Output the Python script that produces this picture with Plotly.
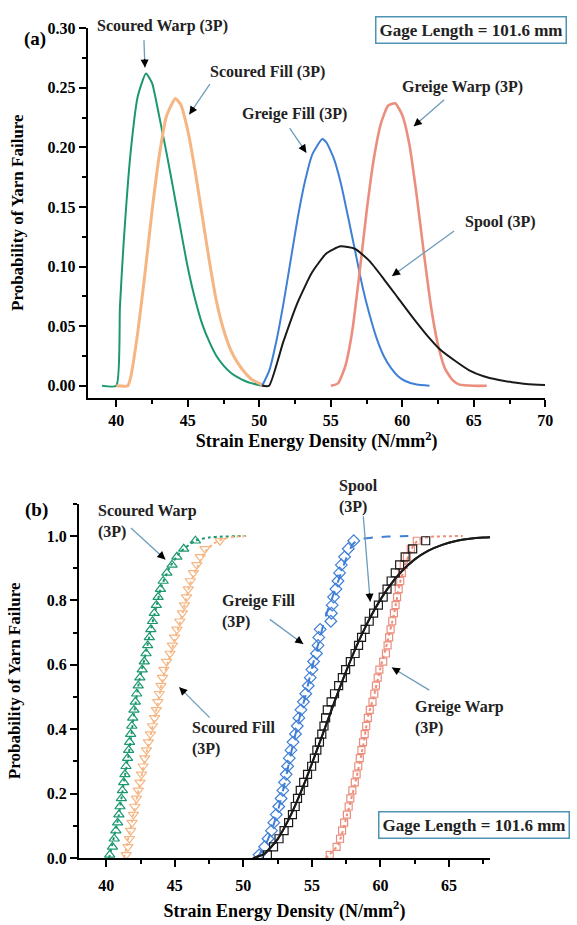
import plotly.graph_objects as go

# ---------------- Panel (a): probability density curves ----------------
sw_pdf_x = [39.0, 40.0, 40.25, 40.5, 41.0, 41.5, 42.07, 42.5, 43.0, 43.5, 44.0, 44.5, 45.0, 45.5,
            46.0, 46.5, 47.0, 47.5, 48.0, 48.5, 49.0, 49.5, 50.2]
sw_pdf_y = [0.0, 0.0, 0.066, 0.118, 0.196, 0.243, 0.262, 0.254, 0.226, 0.196, 0.164, 0.131, 0.099, 0.073,
            0.052, 0.037, 0.025, 0.017, 0.011, 0.007, 0.004, 0.002, 0.0]

sf_pdf_x = [40.0, 40.8, 41.0, 41.5, 42.0, 42.5, 43.0, 43.5, 44.13, 44.5, 45.0, 45.5, 46.0, 46.5,
            47.0, 47.5, 48.0, 48.5, 49.0, 49.5, 50.0, 50.3]
sf_pdf_y = [0.0, 0.0, 0.007, 0.045, 0.094, 0.147, 0.193, 0.226, 0.241, 0.236, 0.214, 0.181, 0.143, 0.105,
            0.071, 0.047, 0.030, 0.019, 0.011, 0.005, 0.002, 0.0]

gf_pdf_x = [50.2, 50.7, 51.2, 51.7, 52.2, 52.7, 53.2, 53.7, 54.4, 54.7, 55.2, 55.7, 56.2, 56.7,
            57.2, 57.7, 58.2, 58.7, 59.2, 59.7, 60.2, 61.0, 61.9]
gf_pdf_y = [0.0, 0.013, 0.038, 0.070, 0.106, 0.142, 0.172, 0.194, 0.207, 0.204, 0.191, 0.170, 0.142, 0.113,
            0.084, 0.060, 0.040, 0.025, 0.015, 0.008, 0.004, 0.001, 0.0]

gw_pdf_x = [55.0, 55.5, 56.0, 56.5, 57.0, 57.5, 58.0, 58.5, 59.0, 59.5, 60.0, 60.5, 61.0, 61.5,
            62.0, 62.5, 63.0, 63.5, 64.0, 65.0, 65.9]
gw_pdf_y = [0.0, 0.002, 0.016, 0.046, 0.094, 0.146, 0.190, 0.220, 0.235, 0.237, 0.227, 0.202, 0.160, 0.112,
            0.067, 0.034, 0.014, 0.005, 0.001, 0.0, 0.0]

sp_pdf_x = [50.2, 50.68, 51.68, 52.68, 53.68, 54.68, 55.68, 56.68, 57.68, 58.68, 59.68, 60.68, 61.68,
            62.68, 63.68, 64.68, 65.68, 66.68, 67.68, 68.68, 69.98]
sp_pdf_y = [0.0, 0.0, 0.037, 0.070, 0.095, 0.111, 0.117, 0.115, 0.105, 0.090, 0.074, 0.058, 0.043,
            0.030, 0.021, 0.013, 0.008, 0.005, 0.003, 0.0015, 0.0007]

# ---------------- Panel (b): cumulative probability of failure ----------------
rank_prob = [0.010, 0.035, 0.060, 0.085, 0.110, 0.135, 0.160, 0.185, 0.210, 0.235,
             0.260, 0.285, 0.310, 0.335, 0.360, 0.385, 0.410, 0.435, 0.460, 0.485,
             0.510, 0.535, 0.560, 0.585, 0.610, 0.635, 0.660, 0.685, 0.710, 0.735,
             0.760, 0.785, 0.810, 0.835, 0.860, 0.885, 0.910, 0.935, 0.960, 0.985]

sw_data_x = [40.25, 40.45, 40.58, 40.70, 40.83, 40.92, 41.00, 41.10, 41.18, 41.27,
             41.36, 41.44, 41.55, 41.63, 41.70, 41.78, 41.86, 41.93, 42.02, 42.12,
             42.22, 42.33, 42.45, 42.62, 42.77, 42.90, 43.02, 43.14, 43.25, 43.37,
             43.50, 43.65, 43.78, 43.95, 44.15, 44.42, 44.80, 45.15, 45.65, 46.50]
sf_data_x = [41.45, 41.58, 41.68, 41.78, 41.88, 41.98, 42.08, 42.20, 42.33, 42.46,
             42.57, 42.68, 42.80, 42.93, 43.07, 43.22, 43.37, 43.52, 43.65, 43.76,
             43.87, 43.99, 44.10, 44.20, 44.40, 44.65, 44.82, 44.98, 45.15, 45.36,
             45.55, 45.70, 45.85, 45.98, 46.13, 46.35, 46.60, 46.85, 47.20, 48.30]
gf_data_x = [51.15, 51.55, 51.80, 52.05, 52.22, 52.40, 52.58, 52.75, 52.88, 53.00,
             53.12, 53.23, 53.35, 53.47, 53.62, 53.80, 53.93, 54.05, 54.20, 54.38,
             54.55, 54.73, 54.88, 55.00, 55.12, 55.33, 55.45, 55.50, 55.60, 56.38,
             56.42, 56.48, 56.58, 56.75, 56.90, 57.02, 57.15, 57.38, 57.65, 58.05]
sp_data_x = [51.75, 52.20, 52.60, 52.97, 53.30, 53.58, 53.78, 53.95, 54.15, 54.40,
             54.68, 54.98, 55.18, 55.36, 55.55, 55.72, 55.88, 56.00, 56.12, 56.40,
             56.65, 56.95, 57.22, 57.46, 57.80, 58.15, 58.40, 58.62, 58.88, 59.18,
             59.50, 59.85, 60.20, 60.48, 60.78, 61.08, 61.40, 61.80, 62.35, 63.30]
gw_data_x = [56.30, 56.80, 57.05, 57.20, 57.35, 57.55, 57.68, 57.80, 57.95, 58.13,
             58.26, 58.38, 58.49, 58.61, 58.73, 58.85, 58.96, 59.08, 59.22, 59.42,
             59.55, 59.67, 59.80, 59.92, 60.20, 60.40, 60.52, 60.63, 60.74, 60.86,
             60.98, 61.10, 61.21, 61.33, 61.44, 61.56, 61.70, 61.93, 62.22, 62.65]

sw_fit_x = [40.2, 40.9, 41.3, 41.7, 42.0, 42.4, 42.8, 43.2, 43.6, 44.0, 44.6, 45.4, 46.5, 47.5, 48.5, 49.5, 50.2]
sw_fit_y = [0.0, 0.13, 0.24, 0.34, 0.44, 0.55, 0.62, 0.70, 0.77, 0.84, 0.90, 0.95, 0.985, 0.995, 0.998, 0.999, 1.0]
sf_fit_x = [41.3, 42.0, 42.5, 43.0, 43.6, 44.1, 44.8, 45.5, 46.1, 46.6, 47.2, 47.8, 48.5, 49.3, 50.2]
sf_fit_y = [0.0, 0.14, 0.24, 0.34, 0.45, 0.55, 0.65, 0.75, 0.85, 0.90, 0.95, 0.975, 0.99, 0.997, 1.0]
gf_fit_x = [51.0, 51.6, 52.1, 52.6, 53.0, 53.5, 54.0, 54.5, 55.0, 55.5, 56.0, 56.5, 57.0, 57.5, 58.0, 58.5,
            59.5, 60.5, 61.5, 62.2]
gf_fit_y = [0.0, 0.04, 0.09, 0.16, 0.23, 0.33, 0.42, 0.50, 0.59, 0.67, 0.75, 0.81, 0.87, 0.93, 0.975, 0.99,
            0.995, 0.998, 0.999, 1.0]
sp_fit_x = [50.7, 51.5, 52.5, 53.5, 54.5, 55.5, 56.5, 57.5, 58.5, 59.5, 60.5, 61.5, 62.5, 63.5, 64.5,
            65.5, 66.5, 67.5, 68.0]
sp_fit_y = [0.0, 0.012, 0.059, 0.137, 0.237, 0.351, 0.468, 0.580, 0.681, 0.766, 0.835, 0.888, 0.927, 0.954,
            0.972, 0.984, 0.991, 0.995, 0.996]
gw_fit_x = [56.0, 56.9, 57.6, 58.2, 58.7, 59.1, 59.5, 60.0, 60.5, 61.0, 61.4, 61.8, 62.2, 62.7, 63.3, 64.0,
            65.0, 66.0]
gw_fit_y = [0.0, 0.04, 0.14, 0.24, 0.34, 0.44, 0.50, 0.59, 0.67, 0.76, 0.85, 0.91, 0.955, 0.985, 0.995, 0.998,
            0.999, 1.0]

GREEN = '#1b9870'
ORANGE = '#f5b683'
BLUE = '#3f7fd6'
RED = '#ec8e7e'
BLACK = '#1a1a1a'
ARROW = '#6d9cbc'
FONT = 'Liberation Serif'

fig = go.Figure()

# panel (a)
for xs, ys, col, w in [(sw_pdf_x, sw_pdf_y, GREEN, 2),
                       (sf_pdf_x, sf_pdf_y, ORANGE, 3),
                       (gf_pdf_x, gf_pdf_y, BLUE, 2),
                       (gw_pdf_x, gw_pdf_y, RED, 2.6),
                       (sp_pdf_x, sp_pdf_y, BLACK, 2)]:
    fig.add_trace(go.Scatter(x=xs, y=ys, mode='lines', xaxis='x', yaxis='y',
                             line=dict(color=col, width=w, shape='spline', smoothing=0.5),
                             showlegend=False, hoverinfo='skip'))

# panel (b) fitted lines
for xs, ys, col, dash in [(sw_fit_x, sw_fit_y, GREEN, 'dot'),
                          (sf_fit_x, sf_fit_y, ORANGE, 'dot'),
                          (gf_fit_x, gf_fit_y, BLUE, 'dash'),
                          (gw_fit_x, gw_fit_y, RED, 'dot'),
                          (sp_fit_x, sp_fit_y, BLACK, 'solid')]:
    fig.add_trace(go.Scatter(x=xs, y=ys, mode='lines', xaxis='x2', yaxis='y2',
                             line=dict(color=col, width=2, dash=dash, shape='spline', smoothing=0.6),
                             showlegend=False, hoverinfo='skip'))

# panel (b) data markers
for xs, col, sym, sz in [(sw_data_x, GREEN, 'triangle-up-open', 9),
                         (sf_data_x, ORANGE, 'triangle-down-open', 9),
                         (gf_data_x, BLUE, 'diamond-open', 9),
                         (gw_data_x, RED, 'square-open', 7),
                         (sp_data_x, BLACK, 'square-open', 8)]:
    fig.add_trace(go.Scatter(x=xs, y=rank_prob, mode='markers', xaxis='x2', yaxis='y2',
                             marker=dict(symbol=sym, size=sz, color=col, line=dict(width=1.2, color=col)),
                             showlegend=False, hoverinfo='skip'))
# re-draw spool fit on top
fig.add_trace(go.Scatter(x=sp_fit_x, y=sp_fit_y, mode='lines', xaxis='x2', yaxis='y2',
                         line=dict(color=BLACK, width=2, shape='spline', smoothing=0.6),
                         showlegend=False, hoverinfo='skip'))

tickfont = dict(family=FONT, size=16, color='black', weight='bold')
titlefont = dict(family=FONT, size=18, color='black', weight='bold')
axis_common = dict(showline=True, linewidth=2, linecolor='black', ticks='outside', ticklen=7,
                   tickwidth=2, tickcolor='black', showgrid=False, zeroline=False, tickfont=tickfont)

fig.update_layout(
    width=577, height=925, margin=dict(l=0, r=0, t=0, b=0),
    paper_bgcolor='white', plot_bgcolor='white',
    xaxis=dict(domain=[0.1542, 0.9584], range=[38, 70], anchor='y', tick0=40, dtick=5,
               minor=dict(ticks='outside', ticklen=4, tickwidth=2, dtick=2.5, tick0=40, tickcolor='black'),
               title=dict(text='Strain Energy Density (N/mm<sup>2</sup>)', font=titlefont, standoff=0),
               **axis_common),
    yaxis=dict(domain=[0.5708, 0.9784], range=[-0.01, 0.3005], anchor='x', tick0=0, dtick=0.05,
               tickformat='.2f',
               minor=dict(ticks='outside', ticklen=4, tickwidth=2, dtick=0.025, tick0=0, tickcolor='black'),
               title=dict(text='Probability of Yarn Failure', font=dict(titlefont, size=17), standoff=20),
               **axis_common),
    xaxis2=dict(domain=[0.1386, 0.8614], range=[38, 68], anchor='y2', tick0=40, dtick=5,
                ticklabelstandoff=5,
                minor=dict(ticks='outside', ticklen=4, tickwidth=2, dtick=2.5, tick0=40, tickcolor='black'),
                title=dict(text='Strain Energy Density (N/mm<sup>2</sup>)', font=titlefont, standoff=11),
                **axis_common),
    yaxis2=dict(domain=[0.0638, 0.4541], range=[0, 1.1], anchor='x2', tick0=0, dtick=0.2,
                tickformat='.1f',
                minor=dict(ticks='outside', ticklen=4, tickwidth=2, dtick=0.1, tick0=0, tickcolor='black'),
                title=dict(text='Probability of Yarn Failure', font=dict(titlefont, size=17), standoff=22),
                **axis_common),
)

annfont = dict(family=FONT, size=16, color='#222222', weight='bold')
annotations = []
shapes = []

# (label, text x, text y, text ref, line start x, y, tip x, y, head offset ax, ay)
labels_a = [
    ('Scoured Warp (3P)', 0.286, 0.9805, 'paper', 41.93, 0.290, 42.00, 0.267, -0.4, -10),
    ('Scoured Fill (3P)', 50.60, 0.263, 'data', 46.54, 0.253, 45.10, 0.2277, 5.6, -8.3),
    ('Greige Fill (3P)', 52.47, 0.2277, 'data', 52.12, 0.2162, 53.29, 0.1956, -5.6, -8.3),
    ('Greige Warp (3P)', 64.24, 0.2507, 'data', 62.93, 0.240, 60.80, 0.2178, 7.5, -6.6),
    ('Spool (3P)', 66.86, 0.1373, 'data', 63.62, 0.1299, 59.28, 0.0921, 8.1, -5.9),
]
for txt, tx, ty, ref, sx, sy, hx, hy, ax, ay in labels_a:
    xr, yr = ('paper', 'paper') if ref == 'paper' else ('x', 'y')
    annotations.append(dict(text=txt, x=tx, y=ty, xref=xr, yref=yr, showarrow=False,
                            font=annfont, xanchor='center', yanchor='middle'))
    shapes.append(dict(type='line', x0=sx, y0=sy, x1=hx, y1=hy, xref='x', yref='y',
                       line=dict(color=ARROW, width=1.3)))
    annotations.append(dict(text='', x=hx, y=hy, xref='x', yref='y', showarrow=True, ax=ax, ay=ay,
                            arrowhead=2, arrowsize=1, arrowwidth=1.6, arrowcolor='black'))

labels_b = [
    ('Scoured Warp<br>(3P)', 39.28, 1.044, 'data', 41.80, 1.0244, 44.31, 0.9268, -7.4, -6.8),
    ('Scoured Fill<br>(3P)', 46.11, 0.372, 'data', 47.54, 0.436, 45.32, 0.5305, 7.1, 7.1),
    ('Greige Fill<br>(3P)', 48.26, 0.7668, 'data', 51.93, 0.7409, 54.37, 0.6646, -8.1, -5.9),
    ('Spool<br>(3P)', 0.5927, 0.4616, 'paper', 58.75, 1.061, 59.25, 0.7957, -0.8, -10),
    ('Greige Warp<br>(3P)', 62.34, 0.4375, 'data', 63.56, 0.5213, 60.83, 0.5915, 8.6, 5.2),
]
for txt, tx, ty, ref, sx, sy, hx, hy, ax, ay in labels_b:
    xr, yr = ('paper', 'paper') if ref == 'paper' else ('x2', 'y2')
    annotations.append(dict(text=txt, x=tx, y=ty, xref=xr, yref=yr, showarrow=False,
                            font=annfont, xanchor='left', yanchor='middle', align='left'))
    shapes.append(dict(type='line', x0=sx, y0=sy, x1=hx, y1=hy, xref='x2', yref='y2',
                       line=dict(color=ARROW, width=1.3)))
    annotations.append(dict(text='', x=hx, y=hy, xref='x2', yref='y2', showarrow=True, ax=ax, ay=ay,
                            arrowhead=2, arrowsize=1, arrowwidth=1.6, arrowcolor='black'))

boxfont = dict(family=FONT, size=17, color='#222222', weight='bold')
annotations.append(dict(text='Gage Length = 101.6 mm', x=0.8284, y=0.9762, xref='paper', yref='paper',
                        showarrow=False, font=boxfont, bordercolor='#4f93b3', borderwidth=1.5,
                        borderpad=3, bgcolor='white', xanchor='center', yanchor='middle'))
annotations.append(dict(text='Gage Length = 101.6 mm', x=0.8336, y=0.1005, xref='paper', yref='paper',
                        showarrow=False, font=boxfont, bordercolor='#4f93b3', borderwidth=1.5,
                        borderpad=3, bgcolor='white', xanchor='center', yanchor='middle'))
annotations.append(dict(text='(a)', x=0.038, y=0.9805, xref='paper', yref='paper', showarrow=False,
                        font=dict(family=FONT, size=19, color='black', weight='bold')))
annotations.append(dict(text='(b)', x=0.040, y=0.4476, xref='paper', yref='paper', showarrow=False,
                        font=dict(family=FONT, size=19, color='black', weight='bold')))

fig.update_layout(annotations=annotations, shapes=shapes)

fig.write_html('out.html')
